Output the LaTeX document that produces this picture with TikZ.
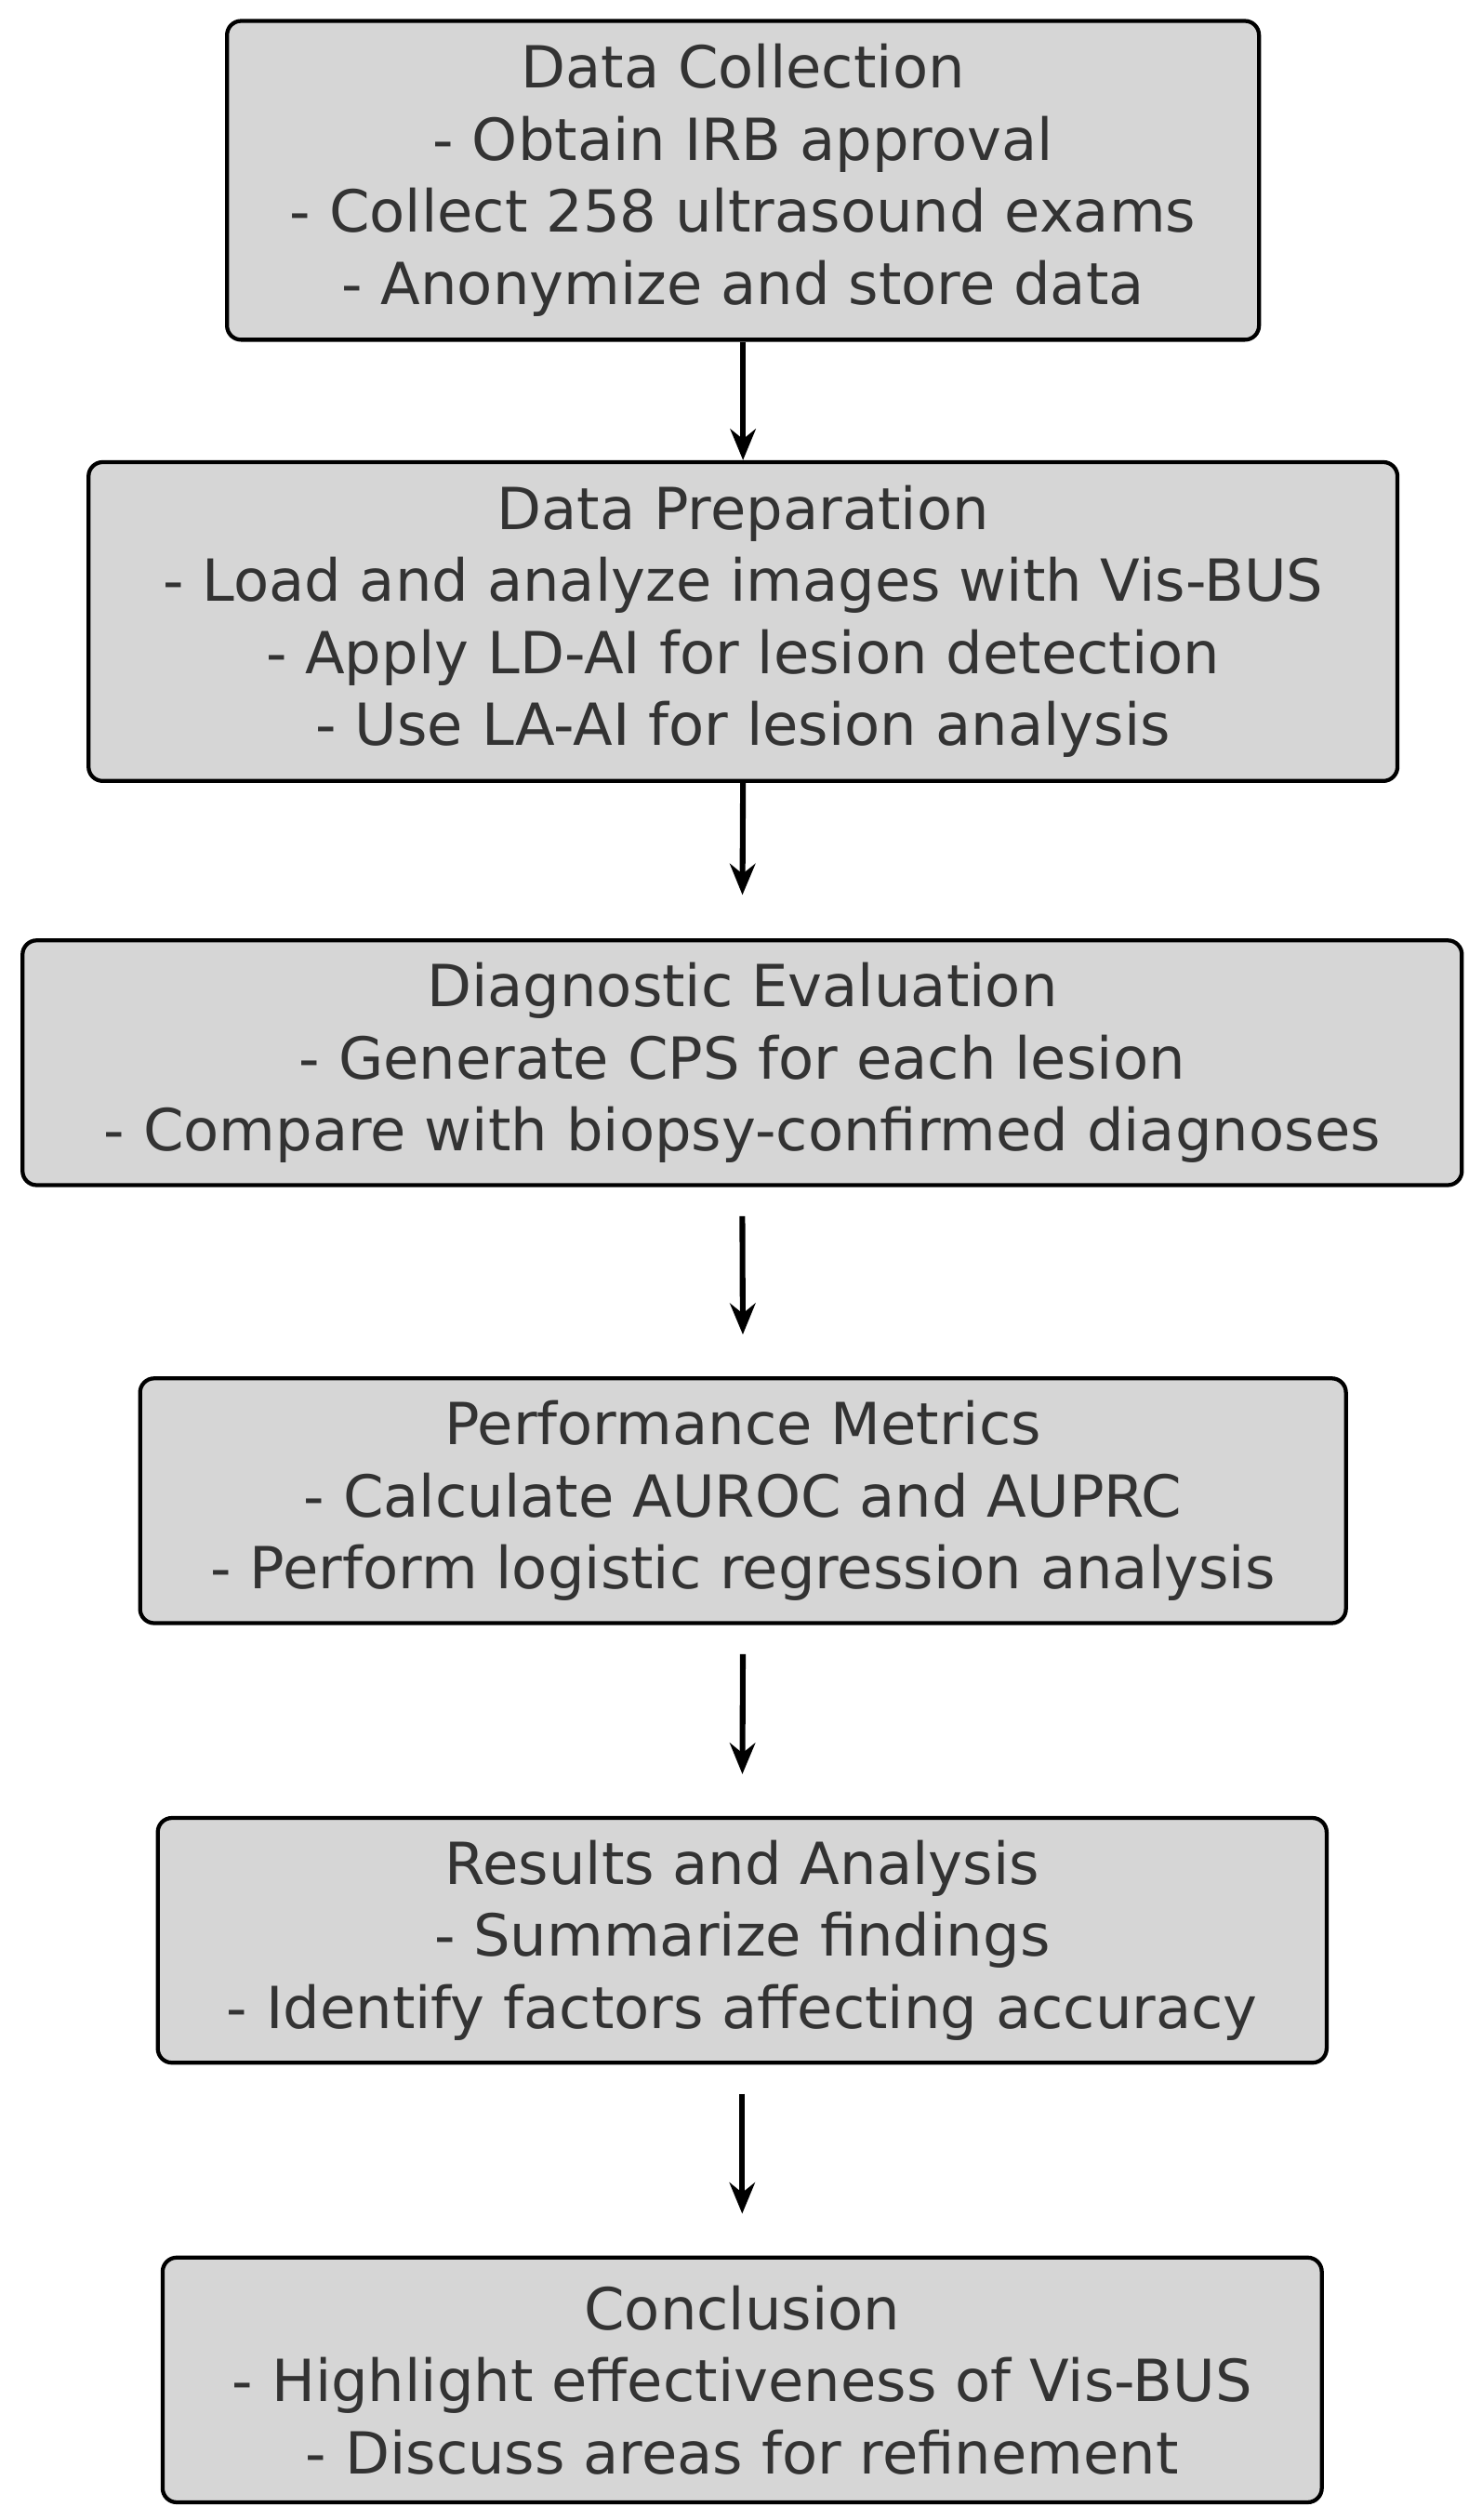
\documentclass[tikz,border=0pt]{standalone}
\usepackage{fontspec}
\setmainfont{DejaVu Sans}
\usetikzlibrary{arrows.meta}
\begin{document}
\begin{tikzpicture}[x=0.02cm,y=-0.02cm,
 box/.style={draw=black,line width=1.4pt,fill=gray!32,rounded corners=5pt,align=center,
   inner sep=0pt,font=\fontsize{20.5}{25.5}\selectfont,text=black!80},
 arr/.style={-{Stealth[length=11pt,width=9pt]},line width=2pt}]
\useasboundingbox (0,0) rectangle (920,1565);
\node[box,minimum width=641*0.02cm,minimum height=198*0.02cm] (b1) at (461.5,112) {Data Collection\\- Obtain IRB approval\\- Collect 258 ultrasound exams\\- Anonymize and store data};
\node[box,minimum width=813*0.02cm,minimum height=198*0.02cm] (b2) at (461.5,386) {Data Preparation\\- Load and analyze images with Vis-BUS\\- Apply LD-AI for lesion detection\\- Use LA-AI for lesion analysis};
\node[box,minimum width=894*0.02cm,minimum height=152*0.02cm] (b3) at (461,660) {Diagnostic Evaluation\\- Generate CPS for each lesion\\- Compare with biopsy-confirmed diagnoses};
\node[box,minimum width=749*0.02cm,minimum height=152*0.02cm] (b4) at (461.5,932) {Performance Metrics\\- Calculate AUROC and AUPRC\\- Perform logistic regression analysis};
\node[box,minimum width=726*0.02cm,minimum height=152*0.02cm] (b5) at (461,1205) {Results and Analysis\\- Summarize findings\\- Identify factors affecting accuracy};
\node[box,minimum width=720*0.02cm,minimum height=152*0.02cm] (b6) at (461,1478) {Conclusion\\- Highlight effectiveness of Vis-BUS\\- Discuss areas for refinement};
\draw[arr] (b1.south) -- (b2.north);
\draw[arr,shorten >=27*0.02cm] (b2.south) -- (b3.north);
\draw[arr,shorten <=18*0.02cm,shorten >=26*0.02cm] (b3.south) -- (b4.north);
\draw[arr,shorten <=18*0.02cm,shorten >=26*0.02cm] (b4.south) -- (b5.north);
\draw[arr,shorten <=18*0.02cm,shorten >=26*0.02cm] (b5.south) -- (b6.north);
\end{tikzpicture}
\end{document}
